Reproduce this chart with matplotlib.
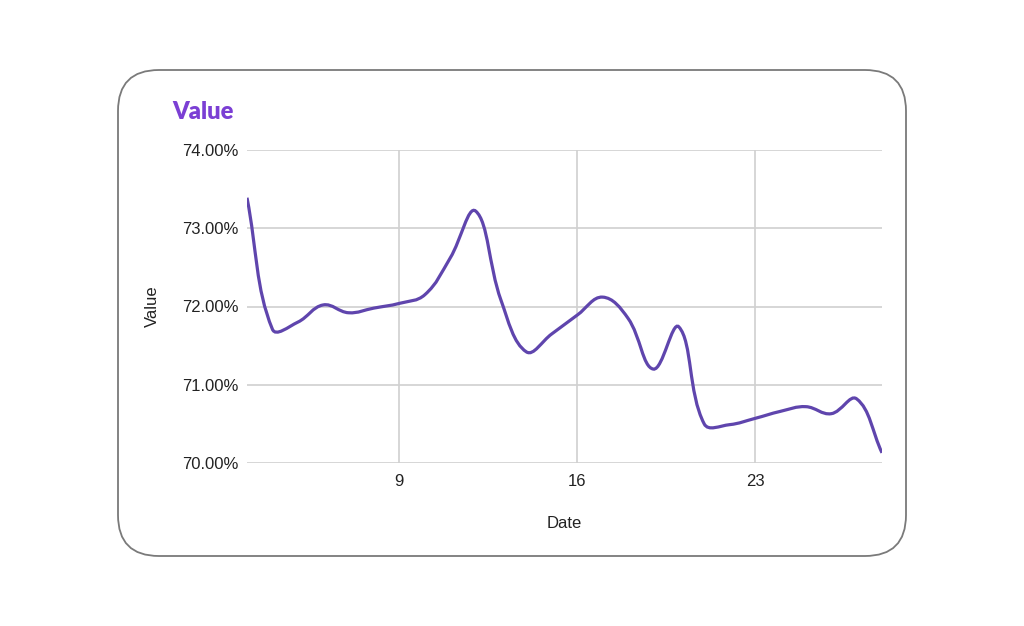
import numpy as np
import matplotlib
matplotlib.use("Agg")
import matplotlib.pyplot as plt
from matplotlib.path import Path
from matplotlib.patches import PathPatch, FancyBboxPatch
from matplotlib.ticker import FuncFormatter

# day of month and value (%)
days = [3, 4, 5, 6, 7, 8, 9, 10, 11, 12, 13, 14, 15, 16,
        17, 18, 19, 20, 21, 22, 23, 24, 25, 26, 27, 28]
values = [73.39, 71.71, 71.80, 72.02, 71.92, 71.98, 72.04, 72.15, 72.62, 73.22,
          72.08, 71.42, 71.65, 71.89, 72.12, 71.85, 71.20, 71.74, 70.50, 70.49,
          70.57, 70.66, 70.72, 70.63, 70.82, 70.13]
x_ticks = [9, 16, 23]
y_ticks = [70, 71, 72, 73, 74]
tension = 0.4

plt.rcParams['font.family'] = ['Liberation Sans', 'DejaVu Sans']

fig = plt.figure(figsize=(10.24, 6.26), dpi=100)

# rounded card behind the chart
card = FancyBboxPatch((118 / 1024, 1 - 556 / 626), (906 - 118) / 1024, (556 - 70) / 626,
                      boxstyle="round,pad=0,rounding_size=0.04",
                      transform=fig.transFigure, facecolor="white",
                      edgecolor="#7a7a7a", linewidth=1.3,
                      mutation_aspect=1024 / 626, zorder=-5)
fig.patches.append(card)

ax = fig.add_axes([247 / 1024, 1 - 463 / 626, (882 - 247) / 1024, (463 - 150) / 626])
ax.set_facecolor("none")
ax.set_zorder(2)
ax.set_xlim(3, 28)
ax.set_ylim(70, 74)

# spline with tension, control points worked out in pixel space
trans = ax.transData
pts = trans.transform(np.column_stack([days, values]))
n = len(pts)
cprev, cnext = [], []
for i in range(n):
    prv = pts[i - 1] if i > 0 else pts[i]
    cur = pts[i]
    nxt = pts[i + 1] if i < n - 1 else pts[i]
    d01 = np.hypot(*(cur - prv))
    d12 = np.hypot(*(nxt - cur))
    s01 = d01 / (d01 + d12)
    s12 = d12 / (d01 + d12)
    cprev.append(cur - tension * s01 * (nxt - prv))
    cnext.append(cur + tension * s12 * (nxt - prv))
verts = [tuple(pts[0])]
codes = [Path.MOVETO]
for i in range(n - 1):
    verts += [tuple(cnext[i]), tuple(cprev[i + 1]), tuple(pts[i + 1])]
    codes += [Path.CURVE4] * 3
verts = trans.inverted().transform(np.array(verts))
ax.add_patch(PathPatch(Path(verts, codes), facecolor="none",
                       edgecolor="#5f45ad", linewidth=2.3, zorder=3))

ax.set_xticks(x_ticks)
ax.set_yticks(y_ticks)
ax.yaxis.set_major_formatter(FuncFormatter(lambda v, p: f"{v:.2f}%"))
ax.grid(True, color="#d0d0d0", linewidth=1.2)
ax.set_axisbelow(True)
for s in ax.spines.values():
    s.set_visible(False)
ax.tick_params(length=0, labelsize=12, colors="#222222", pad=6)
ax.tick_params(axis="x", pad=8)

ax.set_xlabel("Date", fontsize=12, color="#222222", labelpad=19)
ax.set_ylabel("Value", fontsize=12, color="#222222", labelpad=16)

fig.text(172 / 1024, 1 - 112 / 626, "Value", fontsize=17, fontweight="heavy",
         color="#7b3fd4", ha="left", va="center", family=["Lato", "DejaVu Sans"])

fig.savefig("out.png", dpi=100)
